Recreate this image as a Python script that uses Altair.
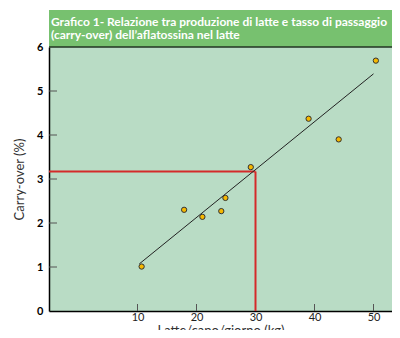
import altair as alt
import pandas as pd

# data
milk_kg = [10.7, 17.9, 21.0, 24.2, 24.9, 29.2, 39.0, 44.1, 50.4]
carry_over = [1.01, 2.30, 2.14, 2.27, 2.57, 3.27, 4.37, 3.90, 5.69]
trend_x = [10.3, 50.0]
trend_y = [1.07, 5.39]
ref_x = 30
ref_y = 3.17
x_ticks = [10, 20, 30, 40, 50]
y_ticks = [0, 1, 2, 3, 4, 5, 6]
title_lines = [
    "Grafico 1- Relazione tra produzione di latte e tasso di passaggio",
    "(carry-over) dell\u2019aflatossina nel latte",
]

W, H = 343, 264
XDOM = [-5, -5 + W / 5.9]
YDOM = [0, 6]

pts = pd.DataFrame({"x": milk_kg, "y": carry_over})
trend = pd.DataFrame({"x": trend_x, "y": trend_y})
ref = pd.DataFrame({"x0": [XDOM[0]], "x": [ref_x], "y0": [YDOM[0]], "y": [ref_y]})
one = pd.DataFrame({"a": [0]})
yt = pd.DataFrame({"y": [v for v in y_ticks if 0 < v < 6]})
xt = pd.DataFrame({"x": x_ticks})
t1 = pd.DataFrame({"t": [title_lines[0]]})
t2 = pd.DataFrame({"t": [title_lines[1]]})

xs = alt.Scale(domain=XDOM, nice=False, zero=False)
ys = alt.Scale(domain=YDOM, nice=False)

xaxis = alt.Axis(values=x_ticks, ticks=False, grid=False, domainColor="black",
                 domainWidth=1.5, labelFont="Lato", labelFontSize=11,
                 labelColor="#222", labelPadding=0, title="Latte/capo/giorno (kg)",
                 titleFont="Lato", titleFontSize=13, titleFontWeight="normal",
                 titleColor="#333", titlePadding=2)
yaxis = alt.Axis(values=y_ticks, ticks=False, grid=False, domainColor="black",
                 domainWidth=1.5, labelFont="Lato", labelFontSize=11,
                 labelFontWeight="bold", labelColor="black", labelPadding=6,
                 title="Carry-over (%)", titleFont="Lato", titleFontSize=13,
                 titleFontWeight="normal", titleColor="#333", titlePadding=10)

banner = alt.Chart(one).mark_rect(color="#77c16f").encode(
    x=alt.value(0), x2=alt.value(W), y=alt.value(-37), y2=alt.value(0))
topline = alt.Chart(one).mark_rule(color="#223322", strokeWidth=1.5).encode(
    x=alt.value(0), x2=alt.value(W), y=alt.value(0))
tstyle = dict(align="left", baseline="alphabetic", color="white", font="Lato",
              fontSize=12, fontWeight="bold")
title1 = alt.Chart(t1).mark_text(**tstyle).encode(
    x=alt.value(2), y=alt.value(-21), text="t:N")
title2 = alt.Chart(t2).mark_text(**tstyle).encode(
    x=alt.value(2), y=alt.value(-8), text="t:N")

ytick = alt.Chart(yt).mark_rule(color="#555", strokeWidth=1).encode(
    x=alt.value(0), x2=alt.value(8), y=alt.Y("y:Q", scale=ys, axis=yaxis))
xtick = alt.Chart(xt).mark_rule(color="#555", strokeWidth=1).encode(
    x=alt.X("x:Q", scale=xs, axis=xaxis), y=alt.value(H), y2=alt.value(H - 7))

ref_h = alt.Chart(ref).mark_rule(color="#d42a2a", strokeWidth=2).encode(
    x=alt.X("x0:Q", scale=xs), x2="x:Q", y=alt.Y("y:Q", scale=ys))
ref_v = alt.Chart(ref).mark_rule(color="#d42a2a", strokeWidth=2).encode(
    x=alt.X("x:Q", scale=xs), y=alt.Y("y0:Q", scale=ys), y2="y:Q")

line = alt.Chart(trend).mark_line(color="#222", strokeWidth=1).encode(
    x=alt.X("x:Q", scale=xs), y=alt.Y("y:Q", scale=ys))
points = alt.Chart(pts).mark_point(filled=True, fill="#f5b800", stroke="#333",
                                   strokeWidth=1, size=28, opacity=1).encode(
    x=alt.X("x:Q", scale=xs), y=alt.Y("y:Q", scale=ys))

chart = alt.layer(banner, topline, title1, title2, ytick, xtick, ref_h, ref_v,
                  line, points).properties(
    width=W, height=H,
    background="white",
    padding={"left": 41, "top": 39, "right": 0, "bottom": 19},
    autosize=alt.AutoSizeParams(type="none"),
).configure_view(fill="#b9dcc5", stroke=None)

chart.save("out.html", embed_options={"renderer": "svg", "actions": False})
